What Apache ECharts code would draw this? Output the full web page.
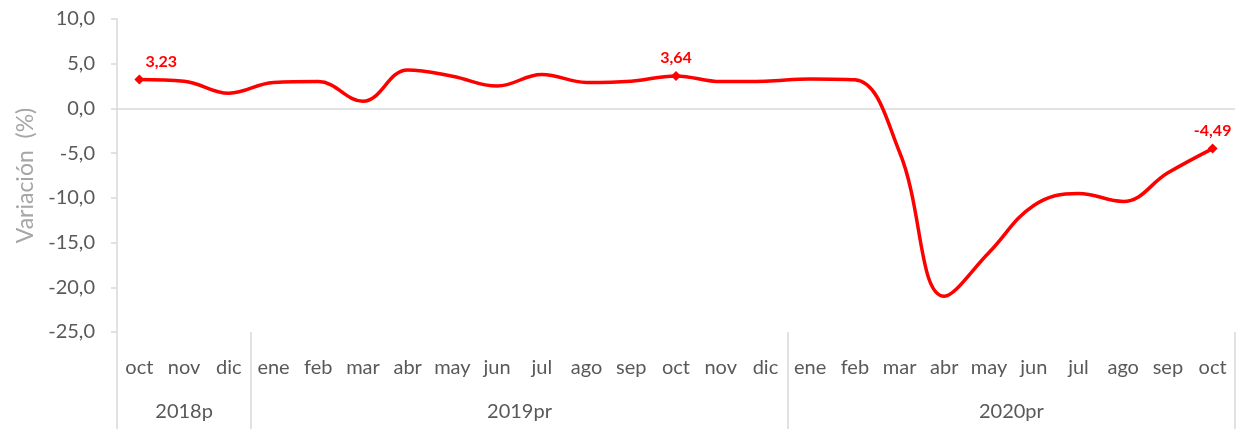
<!DOCTYPE html>
<html>
<head>
<meta charset="utf-8">
<script src="https://cdn.jsdelivr.net/npm/echarts@6/dist/echarts.min.js"></script>
<style>
  html, body { margin: 0; padding: 0; background: #fff; }
  #chart { width: 1238px; height: 429px; }
</style>
</head>
<body>
<div id="chart"></div>
<script>
// meses (eje primario)
const months = ['oct', 'nov', 'dic',
  'ene', 'feb', 'mar', 'abr', 'may', 'jun', 'jul', 'ago', 'sep', 'oct', 'nov', 'dic',
  'ene', 'feb', 'mar', 'abr', 'may', 'jun', 'jul', 'ago', 'sep', 'oct']
// años: nombre, primer índice, número de meses
const yearNames = ['2018p', '2019pr', '2020pr']
const yearStart = [0, 3, 15]
const yearLength = [3, 12, 10]
// variación (%)
const values = [3.23, 3.05, 1.7,
  2.9, 3.0, 0.8, 4.3, 3.6, 2.5, 3.8, 2.9, 3.05, 3.64, 3.0, 3.05,
  3.3, 3.2, -4.9, -21.0, -16.1, -10.85, -9.5, -10.4, -7.2, -4.49]
// puntos con etiqueta
const labelled = [0, 12, 24]

const fmt = v => v.toFixed(2).replace('.', ',')
const axisGray = '#d9d9d9'
const textGray = '#595959'
const font = 'Lato, "Open Sans", sans-serif'

const seriesData = values.map((v, i) => {
  if (!labelled.includes(i)) return v
  return {
    value: v,
    symbol: 'diamond',
    symbolSize: 10,
    label: {
      show: true,
      position: 'top',
      offset: i === 0 ? [22, 0] : [0, 0],
      formatter: p => fmt(p.value)
    }
  }
})

const yearCenters = yearStart.map((s, i) => s + yearLength[i] / 2)
const yearBounds = yearStart.concat([months.length])

const chart = echarts.init(document.getElementById('chart'))
chart.setOption({
  animation: false,
  grid: { left: 117, right: 3, top: 19, bottom: 97, containLabel: false },
  xAxis: [
    {
      type: 'category',
      data: months,
      boundaryGap: true,
      axisLine: { show: false },
      axisTick: { show: false },
      axisLabel: { margin: 26, color: textGray, fontSize: 20, fontFamily: font, interval: 0 },
      splitLine: { show: false }
    },
    {
      type: 'value',
      min: 0,
      max: months.length,
      position: 'bottom',
      axisLine: { show: false },
      splitLine: { show: false },
      axisTick: {
        show: true,
        customValues: yearBounds,
        length: 97,
        lineStyle: { color: axisGray, width: 1.5 }
      },
      axisLabel: {
        customValues: yearCenters,
        margin: 70,
        color: textGray,
        fontSize: 20,
        fontFamily: font,
        formatter: v => yearNames[yearCenters.indexOf(v)]
      }
    }
  ],
  yAxis: {
    type: 'value',
    min: -25,
    max: 10,
    interval: 5,
    name: 'Variación  (%)',
    nameLocation: 'middle',
    nameGap: 80,
    nameTextStyle: { color: '#a6a6a6', fontSize: 23, fontFamily: font },
    axisLine: { show: true, lineStyle: { color: axisGray, width: 1.5 } },
    axisTick: { show: true, length: 6, lineStyle: { color: axisGray, width: 1.5 } },
    axisLabel: {
      color: textGray,
      fontSize: 20,
      fontFamily: font,
      margin: 22,
      formatter: v => v.toFixed(1).replace('.', ',')
    },
    splitLine: { show: false }
  },
  series: [
    {
      type: 'line',
      data: seriesData,
      smooth: 0.4,
      symbol: 'none',
      showAllSymbol: true,
      lineStyle: { color: '#ff0000', width: 3.5 },
      itemStyle: { color: '#ff0000' },
      label: { color: '#ff0000', fontWeight: 'bold', fontSize: 16, fontFamily: font },
      markLine: {
        silent: true,
        symbol: 'none',
        label: { show: false },
        lineStyle: { color: axisGray, type: 'solid', width: 1.5 },
        data: [{ yAxis: 0 }],
        z: 1
      },
      z: 3
    }
  ]
})
</script>
</body>
</html>
